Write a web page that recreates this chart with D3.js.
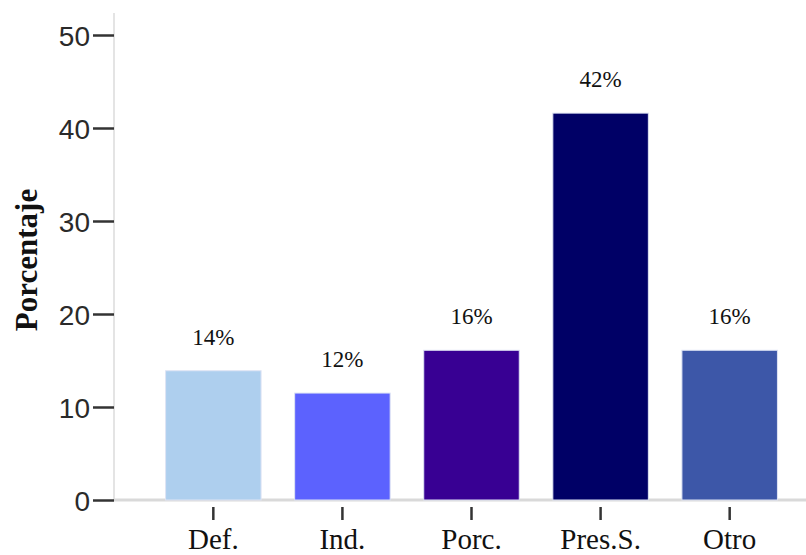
<!DOCTYPE html>
<html>
<head>
<meta charset="utf-8">
<script src="https://cdn.jsdelivr.net/npm/d3@7"></script>
<style>
  body { margin: 0; background: #fff; }
  svg { display: block; }
</style>
</head>
<body>
<div id="chart"></div>
<script>
// datos
var categories = ["Def.", "Ind.", "Porc.", "Pres.S.", "Otro"];
var values = [13.9, 11.5, 16.1, 41.6, 16.1];
var valueLabels = ["14%", "12%", "16%", "42%", "16%"];
var barColors = ["#aecfee", "#5c62fe", "#380093", "#000066", "#3d57a8"];
var yTicks = [0, 10, 20, 30, 40, 50];

var width = 806, height = 555;
var svg = d3.select("#chart").append("svg")
  .attr("width", width).attr("height", height);

var x = d3.scaleBand().domain(categories).range([132, 811]).padding(0.26);
var y = d3.scaleLinear().domain([0, 50]).range([500, 35]);

// eje y (linea gris clara)
svg.append("line")
  .attr("x1", 114).attr("x2", 114)
  .attr("y1", 13).attr("y2", y(0))
  .attr("stroke", "#e4e4e4").attr("stroke-width", 2);

// linea base
svg.append("line")
  .attr("x1", 114).attr("x2", width)
  .attr("y1", y(0)).attr("y2", y(0))
  .attr("stroke", "#d9d9d9").attr("stroke-width", 3);

var yAxis = svg.append("g")
  .attr("transform", "translate(114,0)")
  .call(d3.axisLeft(y).tickValues(yTicks).tickSize(21).tickPadding(3));
yAxis.select(".domain").remove();
yAxis.selectAll(".tick line").attr("stroke", "#333").attr("stroke-width", 2.5);
yAxis.selectAll(".tick text")
  .attr("fill", "#2a2a2a")
  .attr("dy", "0.36em")
  .style("font-family", "'Liberation Sans', Arial, sans-serif")
  .style("font-size", "28px");

// barras
svg.selectAll("rect.bar").data(categories).enter().append("rect")
  .attr("class", "bar")
  .attr("x", function(d) { return x(d); })
  .attr("width", x.bandwidth())
  .attr("y", function(d, i) { return y(values[i]); })
  .attr("height", function(d, i) { return y(0) - y(values[i]); })
  .attr("fill", function(d, i) { return barColors[i]; })
  .attr("stroke", "#dfe4f4").attr("stroke-width", 1);

// etiquetas de valor
svg.selectAll("text.val").data(categories).enter().append("text")
  .attr("class", "val")
  .attr("x", function(d) { return x(d) + x.bandwidth() / 2; })
  .attr("y", function(d, i) { return y(values[i]) - 26; })
  .attr("text-anchor", "middle")
  .attr("fill", "#111")
  .style("font-family", "'Liberation Serif', 'Times New Roman', serif")
  .style("font-size", "23px")
  .text(function(d, i) { return valueLabels[i]; });

// eje x
var xAxis = svg.append("g")
  .attr("transform", "translate(0," + (y(0) + 7) + ")")
  .call(d3.axisBottom(x).tickSize(13).tickPadding(8));
xAxis.select(".domain").remove();
xAxis.selectAll(".tick line").attr("stroke", "#333").attr("stroke-width", 2.5);
xAxis.selectAll(".tick text")
  .attr("fill", "#111")
  .style("font-family", "'Liberation Serif', 'Times New Roman', serif")
  .style("font-size", "29px");

// titulo eje y
svg.append("text")
  .attr("transform", "translate(37,260) rotate(-90)")
  .attr("text-anchor", "middle")
  .attr("fill", "#111")
  .style("font-family", "'Liberation Serif', 'Times New Roman', serif")
  .style("font-weight", "bold")
  .style("font-size", "31px")
  .text("Porcentaje");
</script>
</body>
</html>
